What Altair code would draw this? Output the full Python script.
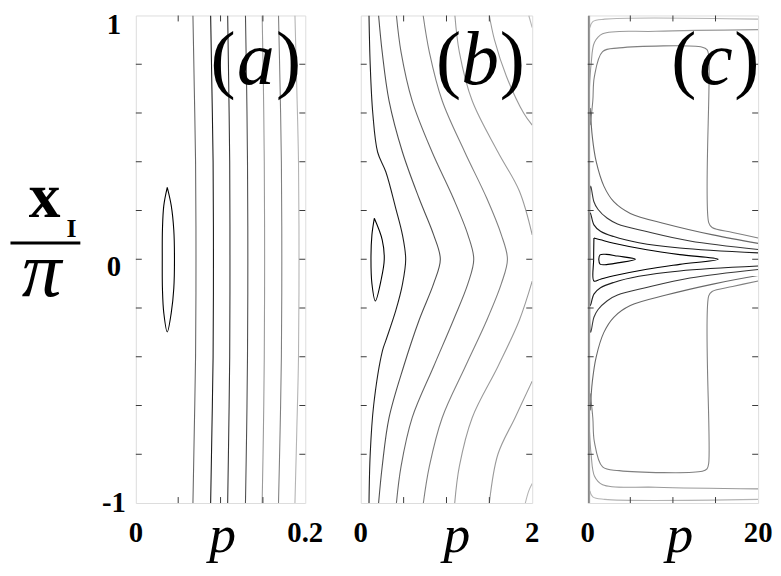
import altair as alt
import pandas as pd

SERIF = "Liberation Serif"
FRAME = "#3a3a3a"
LEVELS = [0, 1, 2, 3, 4, 5, 6, 7]
LEVEL_COLORS = ["#000000", "#1e1e1e", "#383838", "#505050", "#686868", "#808080", "#9a9a9a", "#b4b4b4"]

H = 492
WIDTHS = [171, 173, 172]
P_MAX = [0.2, 2, 20]
X_LABEL_TEXT = [["0", "0.2"], ["0", "2"], ["0", "20"]]
PANEL_LETTERS = ["a", "b", "c"]
Y_TICKS = [-0.8, -0.6, -0.4, -0.2, 0.0, 0.2, 0.4, 0.6, 0.8]
Y_LABEL_VALUES = [1, 0, -1]
Y_LABEL_TEXT = ["1", "0", "-1"]
A_XTICKS = [0.05, 0.1, 0.15]
B_XTICKS = [0.5, 1.0, 1.5]
C_XTICKS = [5, 10, 15]

# ---------------- panel (a) contours: (p, x_I/pi) ----------------
A_LENS = [(0.0371, 0.295), (0.0330, 0.22), (0.0314, 0.12), (0.0312, 0.0), (0.0314, -0.12),
          (0.0330, -0.22), (0.0371, -0.298), (0.0418, -0.22), (0.0448, -0.12), (0.0456, 0.0),
          (0.0448, 0.12), (0.0418, 0.22), (0.0371, 0.295)]
A_L1 = [(0.0674, 1), (0.0690, 0.7), (0.0705, 0.4), (0.0710, 0.0), (0.0705, -0.4), (0.0690, -0.7), (0.0674, -1)]
A_L2 = [(0.0883, 1), (0.0898, 0.7), (0.0912, 0.4), (0.0916, 0.0), (0.0912, -0.4), (0.0898, -0.7), (0.0883, -1)]
A_L3 = [(0.1084, 1), (0.1097, 0.7), (0.1108, 0.4), (0.1111, 0.0), (0.1108, -0.4), (0.1097, -0.7), (0.1084, -1)]
A_L4 = [(0.1294, 1), (0.1308, 0.7), (0.1318, 0.4), (0.1322, 0.0), (0.1318, -0.4), (0.1308, -0.7), (0.1294, -1)]
A_L5 = [(0.1491, 1), (0.1506, 0.7), (0.1516, 0.4), (0.1520, 0.0), (0.1516, -0.4), (0.1506, -0.7), (0.1491, -1)]
A_L6 = [(0.1684, 1), (0.1703, 0.7), (0.1718, 0.4), (0.1723, 0.0), (0.1718, -0.4), (0.1703, -0.7), (0.1684, -1)]
A_L7 = [(0.1878, 1), (0.1900, 0.7), (0.1920, 0.4), (0.1926, 0.0), (0.1920, -0.4), (0.1900, -0.7), (0.1878, -1)]
A_CONTOURS = [(0, A_LENS), (4, A_L1), (1, A_L2), (2, A_L3), (3, A_L4), (6, A_L5), (5, A_L6), (7, A_L7)]

# ---------------- panel (b) contours ----------------
B_LOOP = [(0.158, 0.168), (0.13, 0.1), (0.119, 0.0), (0.13, -0.1), (0.17, -0.171), (0.24, -0.08),
          (0.274, 0.0), (0.25, 0.08), (0.158, 0.168)]
B_C1 = [(0.096, 1), (0.11, 0.8), (0.14, 0.6), (0.197, 0.439), (0.293, 0.358), (0.408, 0.209),
        (0.486, 0.100), (0.524, 0.0), (0.486, -0.103), (0.408, -0.211), (0.293, -0.333),
        (0.254, -0.374), (0.15, -0.6), (0.11, -0.8), (0.096, -1)]
B_C2 = [(0.208, 1), (0.25, 0.85), (0.33, 0.65), (0.486, 0.44), (0.68, 0.25), (0.85, 0.1), (0.928, 0.0),
        (0.85, -0.1), (0.68, -0.25), (0.5, -0.44), (0.33, -0.65), (0.25, -0.85), (0.208, -1)]
B_C3 = [(0.416, 1), (0.47, 0.85), (0.6, 0.65), (0.832, 0.44), (1.08, 0.25), (1.25, 0.1), (1.318, 0.0),
        (1.25, -0.1), (1.08, -0.25), (0.85, -0.44), (0.6, -0.65), (0.47, -0.85), (0.416, -1)]
B_C4 = [(0.728, 1), (0.8, 0.85), (0.95, 0.65), (1.213, 0.44), (1.47, 0.25), (1.64, 0.1), (1.711, 0.0),
        (1.64, -0.1), (1.47, -0.25), (1.22, -0.44), (0.95, -0.65), (0.8, -0.85), (0.73, -1)]
B_L5_UP = [(1.098, 1), (1.15, 0.85), (1.3, 0.65), (1.6, 0.44), (1.85, 0.28), (2.0, 0.1)]
B_L5_DN = [(2.0, -0.09), (1.85, -0.25), (1.6, -0.44), (1.3, -0.65), (1.15, -0.85), (1.096, -1)]
B_L6_UP = [(1.5, 1), (1.56, 0.9), (1.7, 0.75), (1.9, 0.6), (2.0, 0.55)]
B_L6_DN = [(2.0, -0.5), (1.8, -0.65), (1.6, -0.8), (1.5, -1)]
B_L7_UP = [(1.96, 1), (2.0, 0.95)]
B_L7_DN = [(1.92, -1), (1.96, -0.95), (2.0, -0.92)]
B_CONTOURS = [(0, B_LOOP), (1, B_C1), (3, B_C2), (4, B_C3), (5, B_C4), (6, B_L5_UP), (6, B_L5_DN),
              (6, B_L6_UP), (6, B_L6_DN), (7, B_L7_UP), (7, B_L7_DN)]

# ---------------- panel (c) contours ----------------
C_TEAR = [(1.3, 0.0), (1.45, 0.018), (2.2, 0.02), (3.5, 0.013), (5.6, 0.0), (3.5, -0.015), (2.2, -0.022),
          (1.45, -0.02), (1.3, 0.0)]
C_TRI = [(0.73, 0.087), (1.5, 0.08), (3.06, 0.066), (6.94, 0.039), (10.8, 0.019), (15.3, 0.0),
         (10.8, -0.021), (6.94, -0.041), (3.06, -0.068), (1.5, -0.082), (0.73, -0.089), (0.7, 0.0), (0.73, 0.087)]
C_3 = [(20, 0.026), (10.8, 0.046), (6.0, 0.068), (3.06, 0.093), (1.5, 0.115), (0.73, 0.141), (0.3, 0.19),
       (0.2, 0.0), (0.3, -0.19), (0.73, -0.143), (1.5, -0.117), (3.06, -0.095), (6.0, -0.07), (10.8, -0.048),
       (20, -0.028)]
C_4 = [(20, 0.04), (12, 0.075), (6.9, 0.114), (3.5, 0.145), (2.3, 0.168), (1.2, 0.205), (0.73, 0.236),
       (0.35, 0.3), (0.25, 0.0), (0.35, -0.3), (0.73, -0.238), (1.2, -0.207), (2.3, -0.17), (3.5, -0.147),
       (6.9, -0.116), (12, -0.077), (20, -0.042)]
C_5_UP = [(20, 0.065), (14.7, 0.1), (9.2, 0.145), (5.0, 0.188), (3.06, 0.236), (1.9, 0.3), (1.0, 0.4),
          (0.55, 0.5), (0.3, 0.62)]
C_5_DN = [(0.3, -0.62), (0.55, -0.5), (1.0, -0.4), (1.9, -0.3), (3.06, -0.238), (5.0, -0.19), (9.2, -0.147),
          (14.7, -0.102), (20, -0.067)]
C_6_UP = [(0.3, 0.55), (0.6, 0.65), (0.78, 0.748), (1.75, 0.852), (3.7, 0.867), (13.45, 0.87), (14.0, 0.86),
          (14.2, 0.837), (14.2, 0.15), (14.6, 0.13), (17, 0.11), (20, 0.087)]
C_6_DN = [(20, -0.089), (17, -0.112), (14.6, -0.132), (14.2, -0.15), (14.2, -0.837), (14.0, -0.86),
          (13.45, -0.87), (3.7, -0.867), (1.75, -0.852), (0.78, -0.748), (0.6, -0.65), (0.3, -0.55)]
C_7_UP = [(0.2, 0.7), (0.4, 0.8), (0.8, 0.89), (1.75, 0.925), (8, 0.935), (20, 0.942)]
C_7_DN = [(0.2, -0.7), (0.4, -0.8), (0.8, -0.89), (1.75, -0.925), (8, -0.935), (20, -0.942)]
C_8_UP = [(0.25, 0.95), (0.6, 0.975), (2, 0.985), (20, 0.985)]
C_8_DN = [(0.25, -0.95), (0.6, -0.975), (2, -0.985), (20, -0.985)]
C_E1 = [(0.08, 1), (0.08, -1)]
C_E2 = [(0.22, 1), (0.22, -1)]
C_CONTOURS = [(0, C_TEAR), (0, C_TRI), (1, C_3), (2, C_4), (4, C_5_UP), (4, C_5_DN), (5, C_6_UP),
              (5, C_6_DN), (6, C_7_UP), (6, C_7_DN), (7, C_8_UP), (7, C_8_DN), (5, C_E1), (6, C_E2)]


def to_frame(contours):
    rows = []
    for i, (lev, pts) in enumerate(contours):
        for k, (p, x) in enumerate(pts):
            rows.append({"id": i, "k": k, "p": p, "x": x, "lev": lev})
    return pd.DataFrame(rows)


ONE = alt.Data(values=[{}])


def txt(s, x, y, size, style="normal", weight="normal"):
    return alt.Chart(ONE).mark_text(
        text=s, font=SERIF, fontSize=size, fontStyle=style, fontWeight=weight,
        align="center", baseline="alphabetic", color="black"
    ).encode(x=alt.value(x), y=alt.value(y))


def panel(contours, pmax, xlabels, xticks, width, letter, letter_pos, title_x, with_y):
    xs = alt.Scale(domain=[0, pmax], nice=False, zero=False)
    ys = alt.Scale(domain=[-1, 1], nice=False, zero=False)
    df = to_frame(contours)
    lines = alt.Chart(df).mark_line(interpolate="catmull-rom", strokeWidth=1.1, clip=True).encode(
        x=alt.X("p:Q", scale=xs, axis=None),
        y=alt.Y("x:Q", scale=ys, axis=None),
        detail="id:N",
        order="k:Q",
        color=alt.Color("lev:O", scale=alt.Scale(domain=LEVELS, range=LEVEL_COLORS), legend=None),
    )
    xt = pd.DataFrame({"t": xticks})
    yt = pd.DataFrame({"t": Y_TICKS})
    tick = dict(color=FRAME, strokeWidth=1)
    t_bottom = alt.Chart(xt).mark_rule(**tick).encode(
        x=alt.X("t:Q", scale=xs, axis=None), y=alt.value(H), y2=alt.value(H - 6))
    t_top = alt.Chart(xt).mark_rule(**tick).encode(
        x=alt.X("t:Q", scale=xs, axis=None), y=alt.value(0), y2=alt.value(6))
    t_left = alt.Chart(yt).mark_rule(**tick).encode(
        y=alt.Y("t:Q", scale=ys, axis=None), x=alt.value(0), x2=alt.value(6))
    t_right = alt.Chart(yt).mark_rule(**tick).encode(
        y=alt.Y("t:Q", scale=ys, axis=None), x=alt.value(width), x2=alt.value(width - 6))
    xl = pd.DataFrame({"v": [0, pmax], "s": xlabels})
    x_labels = alt.Chart(xl).mark_text(
        font=SERIF, fontWeight="bold", fontSize=29, align="center", baseline="alphabetic", color="black"
    ).encode(x=alt.X("v:Q", scale=xs, axis=None), y=alt.value(H + 39), text="s:N")
    lx1, lx2, lx3 = letter_pos
    layers = [lines, t_bottom, t_top, t_left, t_right, x_labels,
              txt("p", title_x, H + 49, 54, style="italic"),
              txt("(", lx1, 69, 76), txt(letter, lx2, 69, 76, style="italic"), txt(")", lx3, 69, 76)]
    if with_y:
        ylab = pd.DataFrame({"v": Y_LABEL_VALUES, "s": Y_LABEL_TEXT})
        for val, dy in [(1, 19), (0, 17), (-1, 9)]:
            layers.append(
                alt.Chart(ylab).transform_filter(alt.datum.v == val).mark_text(
                    font=SERIF, fontWeight="bold", fontSize=29, align="center",
                    baseline="alphabetic", dy=dy, color="black"
                ).encode(y=alt.Y("v:Q", scale=ys, axis=None), x=alt.value(-22), text="s:N")
            )
        layers += [
            txt("x", -92, 203, 64, weight="bold"),
            txt("I", -65, 224, 26, weight="bold"),
            alt.Chart(ONE).mark_rule(color="black", strokeWidth=3).encode(
                x=alt.value(-126.5), x2=alt.value(-56), y=alt.value(229.5)),
            txt("π", -95, 283, 80, style="italic"),
        ]
    return alt.layer(*layers).properties(width=width, height=H)


pa = panel(A_CONTOURS, P_MAX[0], X_LABEL_TEXT[0], A_XTICKS, WIDTHS[0], PANEL_LETTERS[0],
           (88, 121, 154), 87.5, True)
pb = panel(B_CONTOURS, P_MAX[1], X_LABEL_TEXT[1], B_XTICKS, WIDTHS[1], PANEL_LETTERS[1],
           (88.5, 120.5, 153), 97, False)
pc = panel(C_CONTOURS, P_MAX[2], X_LABEL_TEXT[2], C_XTICKS, WIDTHS[2], PANEL_LETTERS[2],
           (97, 129.5, 160.5), 93, False)

chart = alt.hconcat(pa, pb, pc, spacing=56, bounds="flush", padding=0).configure_view(
    stroke=FRAME, strokeWidth=1
).configure(background="white")

chart.save("out.html", embed_options={"renderer": "svg", "actions": False})
